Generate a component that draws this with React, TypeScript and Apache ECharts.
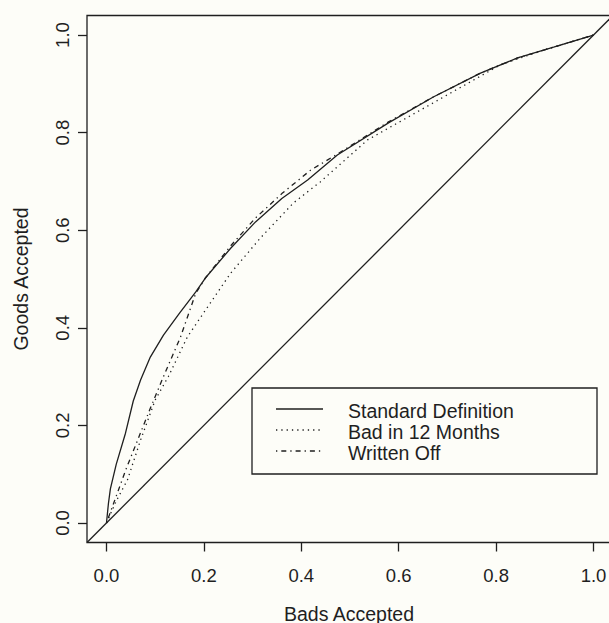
import React, { useEffect, useRef } from "react";
import * as echarts from "echarts";

const tickValues = [0, 0.2, 0.4, 0.6, 0.8, 1.0];

const standardX = [0, 0.004, 0.008, 0.02, 0.039, 0.055, 0.07, 0.09, 0.117, 0.15, 0.183, 0.203, 0.255, 0.306, 0.36, 0.413, 0.474, 0.579, 0.671, 0.768, 0.844, 0.918, 1.0];
const standardY = [0, 0.04, 0.07, 0.12, 0.184, 0.25, 0.293, 0.34, 0.385, 0.43, 0.473, 0.502, 0.563, 0.617, 0.665, 0.703, 0.754, 0.82, 0.873, 0.922, 0.953, 0.975, 1.0];

const bad12X = [0, 0.02, 0.043, 0.07, 0.1, 0.127, 0.166, 0.199, 0.255, 0.316, 0.384, 0.439, 0.536, 0.671, 0.809, 0.9, 1.0];
const bad12Y = [0, 0.045, 0.088, 0.17, 0.252, 0.3, 0.381, 0.43, 0.512, 0.584, 0.656, 0.699, 0.785, 0.861, 0.939, 0.97, 1.0];

const writtenX = [0, 0.02, 0.04, 0.064, 0.09, 0.117, 0.152, 0.183, 0.203, 0.255, 0.306, 0.36, 0.419, 0.474, 0.579, 0.671, 0.768, 0.844, 0.918, 1.0];
const writtenY = [0, 0.055, 0.11, 0.17, 0.235, 0.3, 0.381, 0.47, 0.502, 0.568, 0.625, 0.675, 0.723, 0.756, 0.822, 0.873, 0.922, 0.953, 0.975, 1.0];

const diagX = [-0.04, 1.04];
const diagY = [-0.04, 1.04];

const legendNames = ["Standard Definition", "Bad in 12 Months", "Written Off"];

const zip = (xs: number[], ys: number[]) => xs.map((x, i) => [x, ys[i]]);

const INK = "#1f1f1f";
const BG = "#fdfdf8";
const FONT = "'Liberation Sans', Arial, Helvetica, sans-serif";
const dashes: (number[] | null)[] = [null, [1.3, 4], [1.3, 4, 5, 4]];

export default function App() {
  const ref = useRef<HTMLDivElement>(null);
  useEffect(() => {
    if (!ref.current) return;
    const chart = echarts.init(ref.current, undefined, { renderer: "svg" });
    const axisCommon = {
      type: "value" as const,
      min: -0.04,
      max: 1.04,
      axisLine: { show: false, onZero: false },
      splitLine: { show: false },
      axisTick: {
        show: true,
        inside: false,
        length: 9,
        customValues: tickValues,
        lineStyle: { color: INK, width: 1.3 },
      },
    };
    const lineSeries = (name: string, data: number[][], dash: number[] | null) => ({
      type: "line",
      name,
      data,
      showSymbol: false,
      symbol: "none",
      smooth: false,
      silent: true,
      lineStyle: { color: INK, width: 1.3, type: dash ? dash : "solid" },
    });
    const legendTop = 388;
    const rowY = [409, 430, 451];
    const legendGraphics: any[] = [
      {
        type: "rect",
        shape: { x: 252, y: legendTop, width: 345, height: 86 },
        style: { fill: BG, stroke: INK, lineWidth: 1.3 },
        z: 100,
      },
    ];
    legendNames.forEach((n, i) => {
      legendGraphics.push({
        type: "line",
        shape: { x1: 276, y1: rowY[i], x2: 323, y2: rowY[i] },
        style: { stroke: INK, lineWidth: 1.3, lineDash: dashes[i] ?? undefined },
        z: 101,
      });
      legendGraphics.push({
        type: "text",
        x: 348,
        y: rowY[i] + 1.5,
        style: {
          text: n,
          fill: INK,
          font: `19.5px ${FONT}`,
          textAlign: "left",
          textVerticalAlign: "middle",
        },
        z: 101,
      });
    });
    chart.setOption({
      animation: false,
      backgroundColor: BG,
      grid: {
        left: 87,
        top: 15.5,
        width: 526,
        height: 527,
        show: true,
        borderColor: INK,
        borderWidth: 1.3,
        backgroundColor: "transparent",
      },
      xAxis: {
        ...axisCommon,
        axisLabel: {
          customValues: tickValues,
          formatter: (v: number) => v.toFixed(1),
          color: INK,
          fontSize: 18.5,
          fontFamily: FONT,
          margin: 23,
        },
      },
      yAxis: {
        ...axisCommon,
        axisLabel: {
          customValues: tickValues,
          formatter: (v: number) => v.toFixed(1),
          color: INK,
          fontSize: 18.5,
          fontFamily: FONT,
          rotate: 90,
          margin: 15,
        },
      },
      series: [
        lineSeries("diag", zip(diagX, diagY), null),
        lineSeries(legendNames[0], zip(standardX, standardY), dashes[0]),
        lineSeries(legendNames[1], zip(bad12X, bad12Y), dashes[1]),
        lineSeries(legendNames[2], zip(writtenX, writtenY), dashes[2]),
      ],
      graphic: [
        {
          type: "text",
          x: 349,
          y: 613.5,
          style: {
            text: "Bads Accepted",
            fill: INK,
            font: `19.5px ${FONT}`,
            textAlign: "center",
            textVerticalAlign: "middle",
          },
        },
        {
          type: "text",
          x: 21,
          y: 279,
          rotation: Math.PI / 2,
          style: {
            text: "Goods Accepted",
            fill: INK,
            font: `19.5px ${FONT}`,
            textAlign: "center",
            textVerticalAlign: "middle",
          },
        },
        ...legendGraphics,
      ],
    });
    return () => chart.dispose();
  }, []);
  return (
    <div style={{ position: "fixed", left: 0, top: 0, width: 609, height: 623, overflow: "hidden", background: BG }}>
      <div ref={ref} style={{ width: 620, height: 623 }} />
    </div>
  );
}
